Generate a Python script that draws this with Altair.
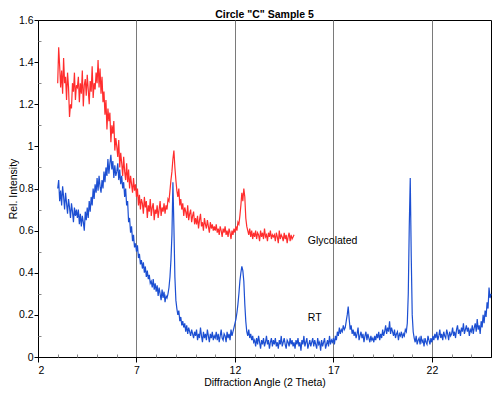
import altair as alt
import pandas as pd

# ---- data ----
X_START = 3.0
X_STEP = 0.05

# Glycolated (red) trace, 3.0 .. 15.0 deg 2-theta, one row per degree
red_values = [
    1.30, 1.47, 1.38, 1.28, 1.36, 1.25, 1.42, 1.30, 1.33, 1.22, 1.35, 1.28, 1.14, 1.20, 1.18, 1.30, 1.26, 1.35, 1.22, 1.29,
    1.28, 1.33, 1.21, 1.30, 1.25, 1.36, 1.19, 1.29, 1.32, 1.24, 1.34, 1.27, 1.20, 1.31, 1.26, 1.38, 1.23, 1.30, 1.27, 1.35,
    1.30, 1.41, 1.28, 1.37, 1.25, 1.33, 1.21, 1.26, 1.15, 1.22, 1.08, 1.18, 1.12, 1.16, 1.02, 1.10, 1.06, 1.12, 0.98, 1.04,
    1.00, 0.95, 1.03, 0.90, 0.97, 0.92, 0.86, 0.95, 0.88, 0.84, 0.92, 0.83, 0.89, 0.80, 0.86, 0.82, 0.78, 0.85, 0.79, 0.82,
    0.76, 0.80, 0.72, 0.77, 0.70, 0.75, 0.73, 0.68, 0.76, 0.71, 0.74, 0.66, 0.72, 0.69, 0.75, 0.67, 0.71, 0.73, 0.65, 0.70,
    0.68, 0.72, 0.66, 0.70, 0.74, 0.67, 0.71, 0.69, 0.73, 0.68, 0.72, 0.70, 0.75, 0.74, 0.79, 0.84, 0.88, 0.94, 0.98, 0.90,
    0.84, 0.79, 0.76, 0.80, 0.72, 0.75, 0.70, 0.73, 0.67, 0.71, 0.69, 0.66, 0.72, 0.65, 0.68, 0.70, 0.64, 0.67, 0.69, 0.63,
    0.66, 0.63, 0.67, 0.61, 0.65, 0.68, 0.62, 0.64, 0.60, 0.66, 0.63, 0.61, 0.65, 0.62, 0.59, 0.64, 0.61, 0.63, 0.60, 0.62,
    0.60, 0.63, 0.59, 0.61, 0.58, 0.62, 0.60, 0.57, 0.61, 0.59, 0.62, 0.58, 0.60, 0.57, 0.61, 0.59, 0.56, 0.60, 0.58, 0.61,
    0.59, 0.62, 0.60, 0.64, 0.63, 0.67, 0.72, 0.78, 0.74, 0.80, 0.76, 0.66, 0.62, 0.60, 0.58, 0.61, 0.57, 0.60, 0.56, 0.59,
    0.57, 0.60, 0.56, 0.59, 0.58, 0.55, 0.60, 0.57, 0.59, 0.56, 0.61, 0.57, 0.58, 0.55, 0.59, 0.57, 0.60, 0.56, 0.58, 0.57,
    0.58, 0.55, 0.59, 0.57, 0.54, 0.60, 0.56, 0.58, 0.57, 0.55, 0.59, 0.56, 0.58, 0.54, 0.57, 0.59, 0.55, 0.58, 0.56, 0.57,
    0.58,
]

# RT (blue) trace, 3.0 .. 25.0 deg 2-theta, one row per degree
blue_values = [
    0.80, 0.84, 0.74, 0.79, 0.72, 0.81, 0.76, 0.70, 0.78, 0.73, 0.68, 0.75, 0.71, 0.66, 0.73, 0.69, 0.64, 0.71, 0.67, 0.70,
    0.66, 0.70, 0.63, 0.68, 0.62, 0.67, 0.64, 0.60, 0.69, 0.65, 0.71, 0.66, 0.74, 0.69, 0.76, 0.72, 0.80, 0.75, 0.82, 0.78,
    0.85, 0.79, 0.86, 0.81, 0.78, 0.84, 0.80, 0.88, 0.83, 0.90, 0.86, 0.94, 0.87, 0.92, 0.96, 0.89, 0.93, 0.85, 0.91, 0.86,
    0.88, 0.92, 0.84, 0.89, 0.82, 0.86, 0.80, 0.83, 0.76, 0.80, 0.72, 0.74, 0.64, 0.66, 0.59, 0.62, 0.55, 0.58, 0.52, 0.54,
    0.50, 0.53, 0.47, 0.49, 0.44, 0.46, 0.42, 0.45, 0.40, 0.43, 0.38, 0.41, 0.37, 0.39, 0.35, 0.36, 0.33, 0.37, 0.32, 0.35,
    0.31, 0.34, 0.29, 0.33, 0.30, 0.27, 0.32, 0.28, 0.31, 0.26, 0.29, 0.28, 0.30, 0.33, 0.38, 0.46, 0.58, 0.83, 0.62, 0.38,
    0.27, 0.23, 0.20, 0.22, 0.17, 0.19, 0.15, 0.17, 0.14, 0.16, 0.12, 0.15, 0.11, 0.14, 0.12, 0.10, 0.13, 0.11, 0.09, 0.12,
    0.10, 0.13, 0.08, 0.11, 0.09, 0.14, 0.10, 0.07, 0.12, 0.09, 0.11, 0.08, 0.13, 0.10, 0.07, 0.11, 0.09, 0.12, 0.08, 0.10,
    0.09, 0.12, 0.08, 0.11, 0.07, 0.10, 0.13, 0.09, 0.08, 0.11, 0.10, 0.07, 0.12, 0.09, 0.11, 0.08, 0.13, 0.10, 0.12, 0.14,
    0.16, 0.18, 0.21, 0.25, 0.30, 0.36, 0.40, 0.43, 0.41, 0.36, 0.25, 0.17, 0.12, 0.10, 0.13, 0.09, 0.11, 0.08, 0.10, 0.07,
    0.08, 0.05, 0.09, 0.06, 0.10, 0.07, 0.04, 0.08, 0.06, 0.09, 0.05, 0.07, 0.10, 0.06, 0.08, 0.04, 0.07, 0.09, 0.05, 0.08,
    0.06, 0.09, 0.05, 0.07, 0.04, 0.08, 0.06, 0.10, 0.05, 0.07, 0.09, 0.06, 0.04, 0.08, 0.07, 0.05, 0.09, 0.06, 0.08, 0.05,
    0.07, 0.04, 0.08, 0.06, 0.09, 0.05, 0.07, 0.03, 0.08, 0.06, 0.10, 0.05, 0.07, 0.09, 0.04, 0.06, 0.08, 0.05, 0.07, 0.09,
    0.05, 0.08, 0.06, 0.04, 0.09, 0.06, 0.07, 0.03, 0.08, 0.05, 0.07, 0.09, 0.04, 0.06, 0.08, 0.05, 0.10, 0.06, 0.08, 0.07,
    0.09, 0.06, 0.10, 0.08, 0.12, 0.10, 0.14, 0.11, 0.13, 0.12, 0.15, 0.13, 0.14, 0.17, 0.20, 0.24, 0.18, 0.13, 0.15, 0.11,
    0.13, 0.10, 0.12, 0.09, 0.11, 0.14, 0.08, 0.10, 0.12, 0.09, 0.11, 0.07, 0.10, 0.12, 0.08, 0.11, 0.09, 0.07, 0.10, 0.08,
    0.09, 0.07, 0.10, 0.08, 0.11, 0.09, 0.12, 0.08, 0.11, 0.09, 0.13, 0.10, 0.12, 0.15, 0.11, 0.14, 0.12, 0.17, 0.11, 0.14,
    0.12, 0.10, 0.13, 0.09, 0.11, 0.12, 0.08, 0.11, 0.10, 0.12, 0.09, 0.11, 0.10, 0.13, 0.12, 0.16, 0.30, 0.62, 0.85, 0.48,
    0.20, 0.12, 0.09, 0.07, 0.10, 0.06, 0.08, 0.09, 0.06, 0.10, 0.07, 0.08, 0.05, 0.09, 0.07, 0.06, 0.10, 0.08, 0.06, 0.09,
    0.07, 0.10, 0.08, 0.11, 0.09, 0.12, 0.08, 0.10, 0.13, 0.09, 0.11, 0.08, 0.12, 0.10, 0.09, 0.13, 0.11, 0.08, 0.12, 0.10,
    0.11, 0.14, 0.10, 0.12, 0.09, 0.13, 0.15, 0.11, 0.13, 0.10, 0.14, 0.12, 0.16, 0.11, 0.13, 0.15, 0.12, 0.14, 0.10, 0.13,
    0.12, 0.15, 0.11, 0.14, 0.16, 0.12, 0.18, 0.13, 0.15, 0.11, 0.17, 0.14, 0.20, 0.16, 0.22, 0.19, 0.26, 0.23, 0.33, 0.28,
    0.30,
]

series_names = ["Glycolated", "RT"]
series_colors = ["#ff2d2d", "#1c4fd2"]

label_text = ["Glycolated", "RT"]
label_x = [15.7, 15.7]
label_y = [0.552, 0.184]

x_ticks = [2, 7, 12, 17, 22]
y_ticks = [0, 0.2, 0.4, 0.6, 0.8, 1.0, 1.2, 1.4, 1.6]
x_minor = [3, 4, 5, 6, 8, 9, 10, 11, 13, 14, 15, 16, 18, 19, 20, 21, 23, 24]
y_minor = [0.1, 0.3, 0.5, 0.7, 0.9, 1.1, 1.3, 1.5]


def trace(vals, name):
    return pd.DataFrame({
        "angle": [round(X_START + i * X_STEP, 2) for i in range(len(vals))],
        "intensity": vals,
        "series": name,
    })


df = pd.concat([trace(red_values, series_names[0]), trace(blue_values, series_names[1])], ignore_index=True)
labels = pd.DataFrame({"text": label_text, "x": label_x, "y": label_y})

FONT = "Liberation Sans"
W, H = 453, 337

x_scale = alt.Scale(domain=[2, 25], nice=False, zero=False)
y_scale = alt.Scale(domain=[0, 1.6], nice=False)

lines = alt.Chart(df).mark_line(strokeWidth=1.2, interpolate="linear").encode(
    x=alt.X("angle:Q", scale=x_scale,
            axis=alt.Axis(values=x_ticks, title="Diffraction Angle (2 Theta)", grid=True,
                          gridColor="#7a7a7a", gridWidth=1, tickSize=5, labelPadding=3,
                          titlePadding=2)),
    y=alt.Y("intensity:Q", scale=y_scale,
            axis=alt.Axis(values=y_ticks, format="~g", title="Rel. Intensity", grid=False, tickSize=4,
                          labelPadding=1, titleAngle=270, titleBaseline="bottom",
                          titleX=-20, titleY=H / 2, titleAlign="center")),
    color=alt.Color("series:N", scale=alt.Scale(domain=series_names, range=series_colors), legend=None),
    detail="series:N",
)

text = alt.Chart(labels).mark_text(align="left", baseline="middle", fontSize=10.5, font=FONT, color="black").encode(
    x=alt.X("x:Q", scale=x_scale, axis=None),
    y=alt.Y("y:Q", scale=y_scale, axis=None),
    text="text:N",
)

minor = alt.Chart(labels).mark_point(opacity=0).encode(
    x=alt.X("x:Q", scale=x_scale,
            axis=alt.Axis(orient="top", offset=-H, values=x_minor, labels=False, domain=False,
                          tickSize=3, title=None, grid=False, tickColor="#888888")),
    y=alt.Y("y:Q", scale=y_scale,
            axis=alt.Axis(orient="right", offset=-W, values=y_minor, labels=False, domain=False,
                          tickSize=3, title=None, grid=False, tickColor="#888888")),
)

chart = alt.layer(lines, text, minor).resolve_axis(
    x="independent", y="independent"
).properties(
    width=W,
    height=H,
    title=alt.Title('Circle "C" Sample 5', fontSize=10.5, fontWeight="bold", font=FONT,
                    offset=2, dy=7, anchor="middle"),
    autosize=alt.AutoSizeParams(type="none"),
    padding={"left": 30, "top": 12, "right": 1, "bottom": 31},
).configure_view(
    stroke="black", strokeWidth=1
).configure_axis(
    labelFont=FONT, titleFont=FONT, labelFontSize=10.5, titleFontSize=10.5,
    titleFontWeight="normal", domainColor="black", tickColor="black", labelColor="black",
    titleColor="black",
)

chart.save("out.html", embed_options={"renderer": "svg", "actions": False})
